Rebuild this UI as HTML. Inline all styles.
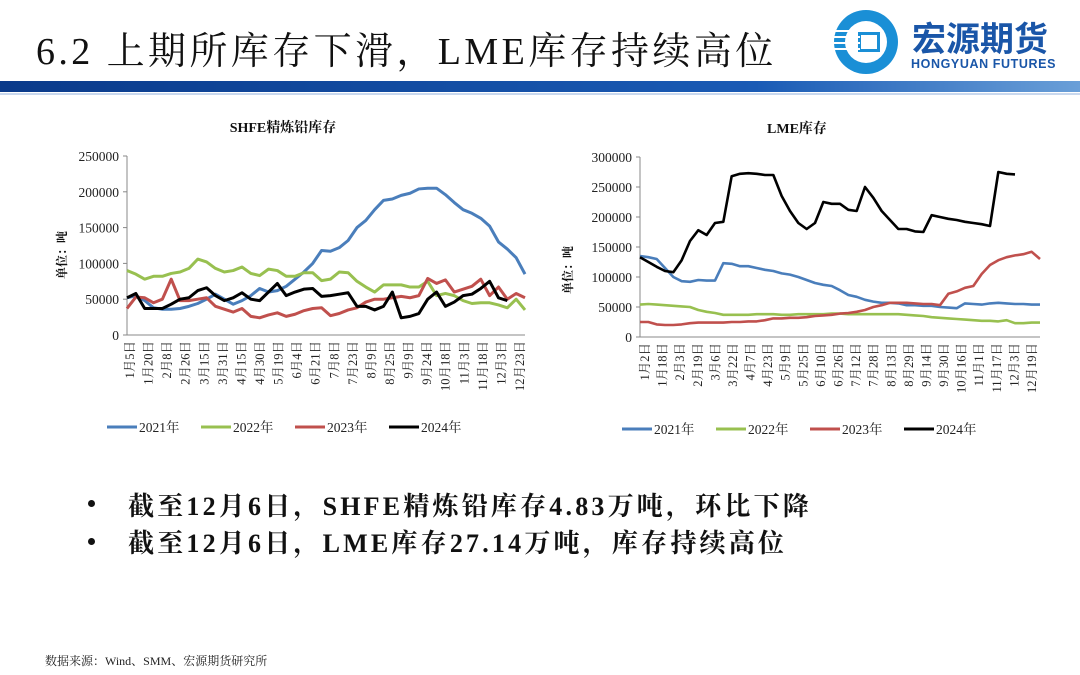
<!DOCTYPE html>
<html><head><meta charset="utf-8">
<style>
body{margin:0;width:1080px;height:675px;background:#fff;overflow:hidden;position:relative;font-family:"Liberation Serif","Noto Serif CJK SC",serif}
.t{position:absolute;white-space:nowrap}
</style></head><body>
<div class="t" style="left:36px;top:20px;font-size:38px;letter-spacing:3.4px;color:#111;font-family:'Liberation Serif','Noto Serif CJK SC',serif">6.2 上期所库存下滑，LME库存持续高位</div>
<div style="position:absolute;left:0;top:81px;width:1080px;height:11px;background:linear-gradient(90deg,#0a3a8a,#1a5bb5 70%,#6a9fd8)"></div>
<div style="position:absolute;left:0;top:93px;width:1080px;height:2px;background:#c9d8ee"></div>
<svg style="position:absolute;left:828px;top:6px" width="252" height="72">
<circle cx="38" cy="36" r="32" fill="#1a8fd6"/><circle cx="38" cy="36" r="21" fill="#fff"/>
<rect x="30" y="26" width="22" height="20" fill="#1a8fd6"/><rect x="33" y="29" width="16" height="14" fill="#fff"/>
<g fill="#fff"><rect x="6" y="24" width="26" height="2"/><rect x="6" y="30" width="26" height="2"/><rect x="6" y="36" width="26" height="2"/><rect x="6" y="42" width="26" height="2"/></g>
<text x="84" y="45" font-size="34" font-weight="bold" fill="#1a56a8" font-family="Noto Sans CJK SC,sans-serif">宏源期货</text>
<text x="83" y="62" font-size="12.5" font-weight="bold" fill="#1a56a8" font-family="Liberation Sans,sans-serif" letter-spacing="0.6">HONGYUAN FUTURES</text>
</svg>
<svg id="c1" style="position:absolute;left:0;top:0" width="1080" height="675"></svg>
<div style="position:absolute;left:88px;top:500px;width:7px;height:7px;border-radius:50%;background:#111"></div>
<div style="position:absolute;left:88px;top:538px;width:7px;height:7px;border-radius:50%;background:#111"></div>
<div class="t" style="left:128px;top:486px;font-size:26px;letter-spacing:3.2px;font-weight:bold;color:#111">截至12月6日，SHFE精炼铅库存4.83万吨，环比下降</div>
<div class="t" style="left:128px;top:523px;font-size:26px;letter-spacing:3.2px;font-weight:bold;color:#111">截至12月6日，LME库存27.14万吨，库存持续高位</div>
<div class="t" style="left:45px;top:652px;font-size:12px;color:#222">数据来源：Wind、SMM、宏源期货研究所</div>
<script>
const lLabels=["1月5日","1月20日","2月8日","2月26日","3月15日","3月31日","4月15日","4月30日","5月19日","6月4日","6月21日","7月8日","7月23日","8月9日","8月25日","9月9日","9月24日","10月18日","11月3日","11月18日","12月3日","12月23日"];
const lS2021=[52,55,48,38,36,36,37,40,44,50,57,50,43,48,55,65,60,62,68,78,88,100,118,117,122,132,150,160,175,188,190,195,198,204,205,205,196,185,175,170,163,152,130,120,108,85];
const lS2022=[90,85,78,82,82,86,88,93,106,102,93,88,90,95,86,83,92,90,82,82,87,87,76,78,88,87,75,67,60,70,70,70,67,67,75,55,58,55,48,44,45,45,42,38,50,35];
const lS2023=[37,53,52,45,50,78,48,48,50,52,40,36,32,37,26,24,28,31,26,29,34,37,38,27,30,35,38,46,50,50,52,54,52,55,79,72,77,60,64,68,78,55,67,50,58,52];
const lS2024=[52,58,37,37,37,43,50,52,62,66,55,48,52,59,50,48,60,72,55,60,64,65,54,55,57,59,40,40,35,40,60,24,26,30,50,60,40,46,55,57,65,75,52,48];
const lTicks=[0,50000,100000,150000,200000,250000];
const rLabels=["1月2日","1月18日","2月3日","2月19日","3月6日","3月22日","4月7日","4月23日","5月9日","5月25日","6月10日","6月26日","7月12日","7月28日","8月13日","8月29日","9月14日","9月30日","10月16日","11月1日","11月17日","12月3日","12月19日"];
const rS2021=[135,133,130,115,100,93,92,95,94,94,123,122,118,118,115,112,110,106,104,100,95,90,87,85,78,70,67,62,59,57,57,56,53,53,52,52,50,49,48,56,55,54,56,57,56,55,55,54,54];
const rS2022=[54,55,54,53,52,51,50,45,42,40,37,37,37,37,38,38,38,37,37,38,38,38,38,39,39,38,38,38,38,38,38,38,37,36,35,33,32,31,30,29,28,27,27,26,28,23,23,24,24];
const rS2023=[25,25,21,20,20,21,23,24,24,24,24,25,25,26,26,28,31,31,32,32,33,35,36,37,39,40,42,45,50,53,57,57,57,56,55,55,53,72,76,82,85,105,120,128,133,136,138,142,130];
const rS2024=[133,125,117,110,108,128,160,178,170,190,192,268,272,273,272,270,270,235,210,190,180,190,225,222,222,212,210,250,232,210,195,180,180,176,175,203,200,197,195,192,190,188,185,275,272,271];
const rTicks=[0,50000,100000,150000,200000,250000,300000];
const colors=["#4a7ebb","#98c050","#c0504d","#000000"];
const years=["2021年","2022年","2023年","2024年"];
const svg=document.getElementById('c1');
const NS="http://www.w3.org/2000/svg";
function mk(tag,attrs,name){const e=document.createElementNS(NS,tag);for(const k in attrs)e.setAttribute(k,attrs[k]);


svg.appendChild(e);return e;}
function chart(o){
 const yS=v=>o.y0-(v/o.ymax)*(o.y0-o.y1);
 const xS=(i,n)=>o.x0+i*(o.x1-o.x0)/(n-1);
 mk('line',{x1:o.x0,y1:o.y1,x2:o.x0,y2:o.y0,stroke:'#888','stroke-width':1},'y-axis');
 mk('line',{x1:o.x0,y1:o.y0,x2:o.x1,y2:o.y0,stroke:'#888','stroke-width':1},'x-axis');
 o.ticks.forEach(t=>{const tx=mk('text',{x:o.x0-8,y:yS(t)+5,'font-size':13.5,'text-anchor':'end',fill:'#222'},'y-tick-label');tx.textContent=t;
  mk('line',{x1:o.x0-4,y1:yS(t),x2:o.x0,y2:yS(t),stroke:'#888'},'y-tick');});
 o.labels.forEach((l,i)=>{const x=o.lx0+i*(o.lx1-o.lx0)/(o.labels.length-1);
  const tx=mk('text',{transform:`translate(${x+4},${o.y0+6}) rotate(-90)`,'font-size':12.5,'text-anchor':'end',fill:'#222'},'x-tick-label');tx.textContent=l;});
 const N=o.n;
 o.series.forEach((s,k)=>{const pts=s.map((v,i)=>xS(i,N)+','+yS(v*1000)).join(' ');
  mk('polyline',{points:pts,fill:'none',stroke:colors[k],'stroke-width':o.sw,'stroke-linejoin':'round'},'line-'+years[k].slice(0,4));});
 years.forEach((y,k)=>{const lx=o.legx+k*o.legdx;
  mk('line',{x1:lx,y1:o.legy,x2:lx+30,y2:o.legy,stroke:colors[k],'stroke-width':3},'legend-swatch');
  const tx=mk('text',{x:lx+32,y:o.legy+5,'font-size':13.5,fill:'#222'},'legend-entry');tx.textContent=y;});
 const tt=mk('text',{x:o.tx,y:o.ty,'font-size':14,'font-weight':'bold','text-anchor':'middle',fill:'#111'},'chart-title');tt.textContent=o.title;
 const yl=mk('text',{transform:`translate(${o.ylx},${o.yly}) rotate(-90)`,'font-size':12,'font-weight':'bold','text-anchor':'middle',fill:'#111'},'y-axis-title');yl.textContent='单位：吨';
}
chart({x0:127,x1:525,y0:335,y1:156,ymax:250000,ticks:lTicks,labels:lLabels,lx0:130,lx1:520,n:46,series:[lS2021,lS2022,lS2023,lS2024],sw:3,legx:107,legdx:94,legy:427,tx:283,ty:132,title:'SHFE精炼铅库存',ylx:66,yly:255});
chart({x0:640,x1:1040,y0:337,y1:157,ymax:300000,ticks:rTicks,labels:rLabels,lx0:645,lx1:1032,n:49,series:[rS2021,rS2022,rS2023,rS2024],sw:2.6,legx:622,legdx:94,legy:429,tx:797,ty:133,title:'LME库存',ylx:572,yly:270});
</script>
</body></html>
